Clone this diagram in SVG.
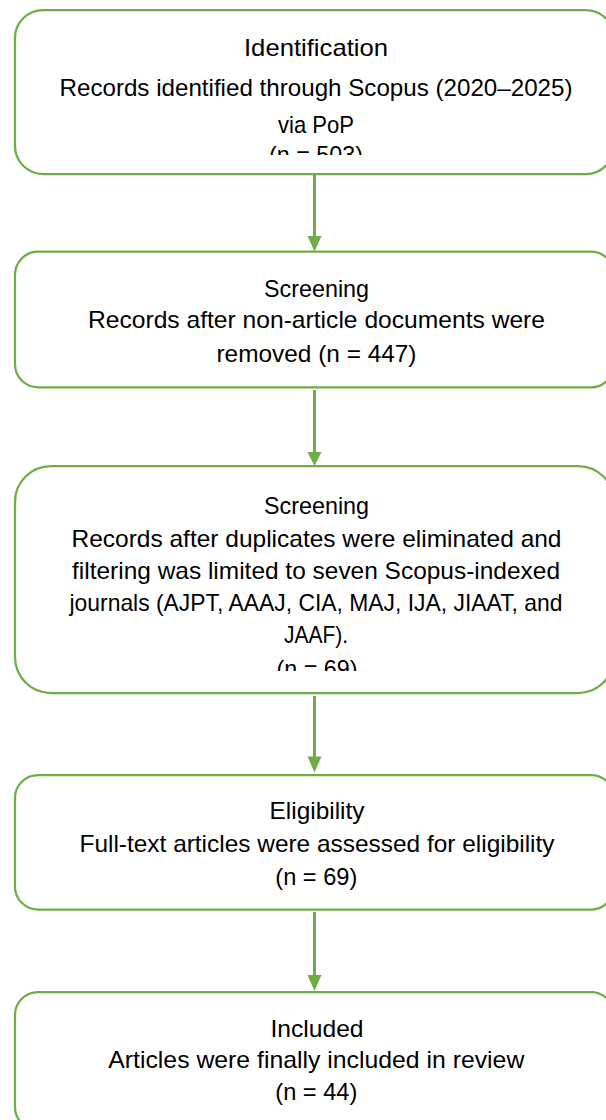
<svg xmlns="http://www.w3.org/2000/svg" width="606" height="1120" viewBox="0 0 606 1120">
<style>
.box{fill:#ffffff;stroke:#70AD47;stroke-width:2.25}
.t{font-family:"Liberation Sans",Arial,sans-serif;font-size:24px;fill:#000000;text-anchor:middle}
.c{stroke:#70AD47;stroke-width:3;fill:none}
.h{fill:#70AD47}
</style>
<defs>
<clipPath id="clip1"><rect x="0" y="0" width="606" height="155"/></clipPath>
<clipPath id="clip3"><rect x="0" y="460" width="606" height="211"/></clipPath>
</defs>
<rect width="606" height="1120" fill="#ffffff"/>
<g id="connectors">
<line class="c" x1="314.5" y1="174" x2="314.5" y2="238"/>
<polygon class="h" points="307.5,236 321.5,236 314.5,251.5"/>
<line class="c" x1="314.5" y1="390" x2="314.5" y2="455"/>
<polygon class="h" points="307.5,452 321.5,452 314.5,466"/>
<line class="c" x1="314.5" y1="696" x2="314.5" y2="758"/>
<polygon class="h" points="307.5,756.5 321.5,756.5 314.5,772.5"/>
<line class="c" x1="314.5" y1="912" x2="314.5" y2="977"/>
<polygon class="h" points="307.5,975 321.5,975 314.5,991"/>
</g>
<g id="identification">
<rect class="box" x="15" y="10" width="599" height="164" rx="28" ry="28"/>
<g clip-path="url(#clip1)">
<text class="t" x="316" y="56" textLength="144" lengthAdjust="spacingAndGlyphs">Identification</text>
<text class="t" x="316" y="95.5" textLength="513" lengthAdjust="spacingAndGlyphs">Records identified through Scopus (2020–2025)</text>
<text class="t" x="316" y="133" textLength="76" lengthAdjust="spacingAndGlyphs">via PoP</text>
<text class="t" x="316" y="163" textLength="94" lengthAdjust="spacingAndGlyphs">(n = 503)</text>
</g>
</g>
<g id="screening1">
<rect class="box" x="15" y="251.7" width="599" height="135.6" rx="23" ry="23"/>
<text class="t" x="316.5" y="296.7" textLength="105" lengthAdjust="spacingAndGlyphs">Screening</text>
<text class="t" x="316.5" y="328.3" textLength="457" lengthAdjust="spacingAndGlyphs">Records after non-article documents were</text>
<text class="t" x="316.5" y="361.7" textLength="200" lengthAdjust="spacingAndGlyphs">removed (n = 447)</text>
</g>
<g id="screening2">
<rect class="box" x="15" y="466" width="599" height="227" rx="36" ry="36"/>
<g clip-path="url(#clip3)">
<text class="t" x="316.5" y="513.5" textLength="105" lengthAdjust="spacingAndGlyphs">Screening</text>
<text class="t" x="316.5" y="546.7" textLength="490" lengthAdjust="spacingAndGlyphs">Records after duplicates were eliminated and</text>
<text class="t" x="316" y="579" textLength="488" lengthAdjust="spacingAndGlyphs">filtering was limited to seven Scopus-indexed</text>
<text class="t" x="316" y="611" textLength="493" lengthAdjust="spacingAndGlyphs">journals (AJPT, AAAJ, CIA, MAJ, IJA, JIAAT, and</text>
<text class="t" x="316" y="643.3" textLength="64" lengthAdjust="spacingAndGlyphs">JAAF).</text>
<text class="t" x="317" y="677" textLength="81" lengthAdjust="spacingAndGlyphs">(n = 69)</text>
</g>
</g>
<g id="eligibility">
<rect class="box" x="15" y="775" width="599" height="134.5" rx="23" ry="23"/>
<text class="t" x="317" y="819" textLength="95" lengthAdjust="spacingAndGlyphs">Eligibility</text>
<text class="t" x="317" y="851.7" textLength="475" lengthAdjust="spacingAndGlyphs">Full-text articles were assessed for eligibility</text>
<text class="t" x="316.3" y="884.5" textLength="82" lengthAdjust="spacingAndGlyphs">(n = 69)</text>
</g>
<g id="included">
<rect class="box" x="15" y="992" width="599" height="138" rx="23" ry="23"/>
<text class="t" x="317" y="1036.7" textLength="93" lengthAdjust="spacingAndGlyphs">Included</text>
<text class="t" x="316.3" y="1068.3" textLength="416" lengthAdjust="spacingAndGlyphs">Articles were finally included in review</text>
<text class="t" x="316.3" y="1100" textLength="82" lengthAdjust="spacingAndGlyphs">(n = 44)</text>
</g>
</svg>
